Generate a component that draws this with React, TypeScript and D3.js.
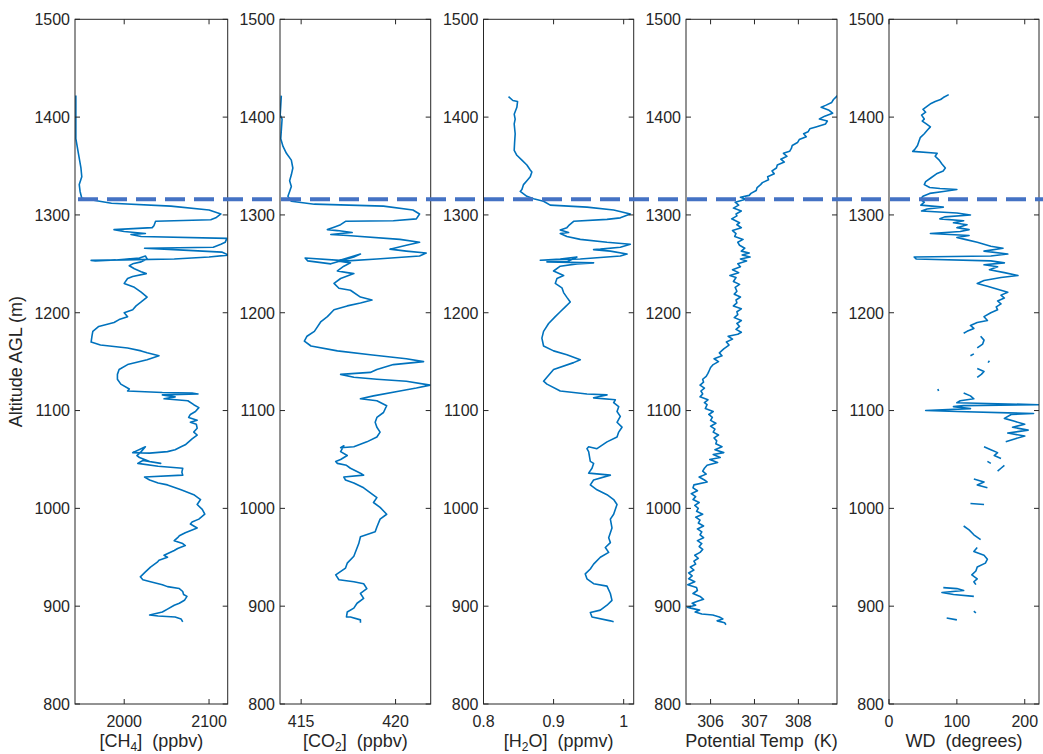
import React from "react";
import * as d3 from "d3";

// ---------- DATA (altitude m, value) ----------
const ALT_DOMAIN = [800, 1500];
const ALT_TICKS = [800, 900, 1000, 1100, 1200, 1300, 1400, 1500];
const BL_TOP = 1316; // boundary-layer top (dashed line)

const CH4: [number, number][] = [
  [1422,1943],[1400,1943],[1378,1943],[1363,1946],[1348,1949],[1339,1950],[1331,1947],[1324,1948],[1317,1950],[1312,1985],[1309,2055],[1305,2100],[1301,2114],[1297,2108],[1295,2102],[1293.5,2037],[1289,2035],[1287,2033],[1285,1988],[1283,2000],[1281,2025],[1280,2008],[1278,2020],[1276,2121],[1272,2119],[1270,2114],[1267,2105],[1266,2024],[1264,2070],[1262,2115],[1259,2123],[1257,2100],[1255,2059],[1254,2000],[1253.5,1961],[1253,1966],[1254,1990],[1256,2018],[1258,2025],[1255,2027],[1252,2020],[1250,2010],[1248,2006],[1245,2012],[1242,2020],[1240,2026],[1237,2010],[1235,2004],[1230,2000],[1226,2012],[1221,2020],[1216,2027],[1211,2020],[1207,2014],[1203,2010],[1200,2000],[1196,2004],[1193,1994],[1190,1988],[1186,1970],[1181,1963],[1176,1962],[1170,1961],[1167,1972],[1164,2004],[1161,2020],[1159,2027],[1156,2041],[1152,2027],[1147,2004],[1142,1994],[1137,1992],[1132,1992],[1127,1996],[1122,2006],[1120,2004],[1118.5,2045],[1118,2080],[1117,2087],[1116,2045],[1114,2060],[1112,2047],[1110,2075],[1106,2082],[1103,2088],[1099,2084],[1096,2078],[1093,2076],[1090,2086],[1088,2078],[1086,2085],[1082,2086],[1078,2082],[1075,2086],[1071,2080],[1068,2076],[1065,2072],[1063,2067],[1060,2060],[1058,2051],[1056.5,2030],[1057,2010],[1063,2025],[1058,2020],[1054,2015],[1052,2018],[1048,2030],[1046,2043],[1049,2022],[1046,2016],[1043,2040],[1041,2069],[1037,2068],[1034,2069],[1032,2024],[1029,2030],[1026,2040],[1024,2051],[1019,2067],[1014,2082],[1009,2090],[1004,2086],[999,2092],[994,2095],[989,2088],[986,2080],[984,2078],[980,2086],[975,2072],[972,2065],[970,2063],[967,2059],[964,2069],[962,2072],[959,2063],[957,2059],[952,2047],[950,2051],[947,2041],[945,2039],[940,2031],[935,2025],[930,2019],[927,2022],[925,2031],[922,2045],[920,2051],[918,2065],[915,2069],[912,2070],[910,2074],[906,2071],[903,2065],[901,2059],[897,2051],[894,2045],[892,2035],[891,2030],[890,2040],[889,2060],[887,2067],[884,2069]
];

const CO2: [number, number][] = [
  [1422,413.95],[1402,413.89],[1398,413.99],[1378,413.92],[1370,414.04],[1363,414.22],[1356,414.48],[1348,414.56],[1341,414.48],[1335,414.39],[1329,414.48],[1324,414.39],[1319,414.30],[1314,414.48],[1311,415.70],[1309,419.36],[1305,420.92],[1301,421.27],[1296,421.10],[1294,419.88],[1293.5,417.35],[1290,417.09],[1287.5,416.74],[1285,416.39],[1284,416.92],[1282,417.70],[1281,417.09],[1280,416.57],[1279,417.44],[1275,420.23],[1272,421.27],[1269,420.57],[1265,419.70],[1263,420.57],[1261,421.62],[1258,421.27],[1255,419.01],[1253,417.44],[1256,415.21],[1253,415.35],[1250,416.57],[1257,417.79],[1260,418.14],[1253,416.92],[1251,417.61],[1247.6,417.26],[1242.7,416.92],[1241,417.44],[1240,417.79],[1235,417.09],[1230,416.74],[1225,417.00],[1223,417.61],[1216,418.14],[1213,418.75],[1210,418.14],[1207,417.44],[1203,416.74],[1196,416.39],[1191,416.05],[1181,415.70],[1176,415.31],[1171,415.17],[1166,415.52],[1161,416.92],[1157,418.66],[1153,420.57],[1150,421.48],[1147,419.88],[1142,419.01],[1139,418.66],[1137,417.09],[1134,417.79],[1132,419.01],[1130,420.57],[1126,421.83],[1123,421.10],[1120,420.23],[1115,418.83],[1112,418.14],[1110,419.01],[1105,419.53],[1098,419.36],[1093,419.01],[1088,418.92],[1083,419.01],[1078,419.18],[1073,419.01],[1068,418.48],[1063,417.79],[1062,417.09],[1064,417.26],[1058,417.09],[1054,417.44],[1050,417.09],[1048,416.83],[1046,416.92],[1044,417.40],[1041,417.61],[1036,418.14],[1034,418.31],[1032,417.26],[1029,417.35],[1026,417.79],[1021,418.31],[1011,419.01],[1006,418.83],[1001,419.18],[994,419.53],[989,419.18],[981,419.01],[976,418.92],[971,418.14],[964,418.05],[951,417.79],[944,417.44],[939,417.35],[932,416.83],[927,417.00],[925,417.79],[923,418.31],[918,418.48],[913,418.14],[908,418.31],[903,417.96],[898,417.79],[894,417.44],[889,417.40],[889,417.61],[886,418.14],[883,418.14]
];

const H2O: [number, number][] = [
  [1421,0.8357],[1417,0.8419],[1416,0.8486],[1410,0.8476],[1403,0.8438],[1398,0.8452],[1393,0.8438],[1383,0.8452],[1373,0.8443],[1366,0.8438],[1361,0.8476],[1356,0.8548],[1351,0.8619],[1346,0.8667],[1344,0.8690],[1339,0.8667],[1335,0.8619],[1331,0.8571],[1326,0.8548],[1324,0.8524],[1319,0.8619],[1316.5,0.8714],[1314,0.8857],[1310,0.8952],[1308,0.9476],[1305,0.9857],[1301,1.0095],[1297,0.9952],[1295.5,0.9762],[1293.5,0.9286],[1289,0.9214],[1287,0.9190],[1284.5,0.9095],[1282,0.9214],[1281,0.9095],[1278,0.9190],[1275,0.9381],[1272,0.9762],[1270,1.0095],[1267,0.9952],[1265,0.9667],[1264.5,0.9571],[1263,0.9810],[1260,1.0048],[1258,0.9952],[1256,0.9571],[1255,0.9381],[1253.6,0.8810],[1255,0.9095],[1257,0.9333],[1252,0.9190],[1252,0.8905],[1251,0.9571],[1250,0.9333],[1247.6,0.9095],[1242.7,0.9],[1238,0.9143],[1235,0.9048],[1230,0.9024],[1225.5,0.9119],[1220.6,0.9143],[1215.7,0.9190],[1211,0.9238],[1206,0.9167],[1201,0.9095],[1196,0.9024],[1189,0.8929],[1181,0.8857],[1174,0.8833],[1166,0.8857],[1161,0.9],[1157,0.9190],[1152,0.9381],[1149,0.9286],[1142,0.9],[1134,0.8905],[1130,0.8857],[1127,0.8905],[1120,0.9095],[1117,0.9476],[1116,0.9762],[1113,0.9571],[1111,0.9881],[1108,0.9857],[1104,0.9929],[1099,0.9905],[1094,0.9952],[1088,0.9905],[1083,0.9976],[1078,0.9929],[1073,0.9905],[1068,0.9762],[1061,0.9619],[1063,0.95],[1061,0.9476],[1058,0.9500],[1048,0.9524],[1046,0.9571],[1041,0.9548],[1036,0.95],[1034,0.9810],[1029,0.9571],[1024,0.9524],[1019,0.9619],[1014,0.9762],[1009,0.9857],[1004,0.9905],[994,0.9857],[989,0.9810],[980,0.9833],[970,0.9786],[965,0.9810],[960,0.9738],[955,0.9786],[950,0.9667],[943,0.9571],[938,0.9524],[933,0.9452],[928,0.9476],[923,0.9571],[920.5,0.9762],[913,0.9810],[906,0.9833],[901,0.9762],[896,0.9667],[893.5,0.9524],[889,0.9548],[885,0.9810],[884,0.9857]
];

const PTEMP: [number, number][] = [
  [1422,308.89],[1418,308.80],[1415,308.76],[1412,308.62],[1410,308.52],[1407,308.70],[1404,308.78],[1401,308.60],[1398,308.48],[1396,308.66],[1393,308.62],[1390,308.40],[1388,308.26],[1385,308.22],[1383,308.12],[1380,308.18],[1377,308.02],[1374,307.98],[1371,307.86],[1368,307.84],[1365,307.80],[1363,307.66],[1360,307.74],[1357,307.60],[1354,307.68],[1351,307.52],[1348,307.50],[1345,307.40],[1342,307.45],[1339,307.30],[1336,307.32],[1333,307.18],[1331,307.14],[1328,307.06],[1325,307.04],[1322,306.92],[1320,306.88],[1318,306.68],[1316,306.80],[1313,306.56],[1310,306.64],[1307,306.52],[1304,306.70],[1301,306.58],[1299,306.60],[1296,306.48],[1292,306.66],[1290,306.60],[1287,306.70],[1284,306.50],[1281,306.58],[1278,306.55],[1275,306.74],[1272,306.62],[1269,306.66],[1266,306.78],[1263,306.70],[1261,306.88],[1259,306.72],[1257,306.90],[1255,306.68],[1253,306.82],[1250,306.62],[1247,306.68],[1244,306.50],[1241,306.64],[1238,306.44],[1236,306.58],[1232,306.52],[1229,306.66],[1226,306.56],[1222,306.60],[1219,306.54],[1216,306.68],[1213,306.58],[1210,306.60],[1207,306.52],[1204,306.70],[1201,306.60],[1198,306.62],[1195,306.54],[1192,306.70],[1189,306.60],[1186,306.66],[1183,306.58],[1180,306.70],[1178,306.62],[1176,306.40],[1173,306.50],[1170,306.36],[1167,306.42],[1163,306.30],[1159,306.20],[1156,306.26],[1153,306.08],[1150,306.18],[1147,306.06],[1144,306.00],[1141,305.97],[1138,305.94],[1135,305.90],[1132,305.82],[1129,305.84],[1126,305.76],[1123,305.86],[1120,305.78],[1117,305.82],[1114,305.76],[1111,305.94],[1108,305.86],[1106,305.92],[1102,305.88],[1099,306.06],[1096,305.96],[1093,306.04],[1090,306.00],[1087,306.12],[1084,306.00],[1081,306.10],[1078,306.06],[1075,306.18],[1072,306.08],[1069,306.14],[1066,306.12],[1063,306.26],[1060,306.10],[1057,306.30],[1055,306.06],[1052,306.22],[1050,305.98],[1047,306.16],[1044,305.92],[1041,305.86],[1038,305.82],[1035,305.90],[1032,305.74],[1029,305.86],[1027,305.92],[1024,305.62],[1021,305.60],[1018,305.70],[1015,305.56],[1012,305.66],[1009,305.60],[1006,305.74],[1003,305.64],[1000,305.72],[997,305.68],[994,305.82],[991,305.66],[988,305.76],[985,305.72],[982,305.84],[979,305.70],[976,305.80],[973,305.76],[970,305.84],[967,305.70],[964,305.80],[961,305.74],[958,305.82],[955,305.76],[952,305.64],[949,305.72],[946,305.62],[943,305.66],[940,305.54],[937,305.62],[934,305.50],[931,305.58],[928,305.50],[925,305.64],[922,305.48],[919,305.68],[916,305.70],[913,305.60],[910,305.76],[907,305.84],[905,305.70],[903,305.58],[901,305.66],[899,305.47],[898,305.55],[896,305.75],[894,305.65],[892,305.80],[891,306.05],[889,306.20],[887,306.28],[885,306.15],[883,306.32],[881,306.35]
];

// wind direction has data gaps: separate segments
const WD_SEGMENTS: [number, number][][] = [
  [[1423,88],[1420,80],[1418,76],[1416,68],[1414,62],[1411,56],[1408,50],[1405,54],[1402,48],[1398,52],[1396,49],[1393,55],[1390,61],[1387,57],[1383,52],[1379,46],[1375,44],[1371,42],[1367,38],[1365,35],[1363,71],[1360,68],[1356,74],[1352,78],[1348,83],[1345,80],[1342,70],[1338,62],[1334,54],[1331,52],[1328,60],[1327,75],[1326,100],[1324,80],[1322,60],[1319,50],[1316,46],[1313,52],[1310,47],[1308,80],[1306,56],[1304,48],[1302,100],[1300,120],[1298,82],[1296,75],[1294,110],[1292,95],[1290,115],[1287,100],[1285,118],[1283,105],[1281,61],[1279,118],[1277,100],[1275,112],[1272,130],[1268,150],[1266,168],[1263,140],[1260,175],[1258,150],[1257,37],[1255,40],[1253,150],[1251,170],[1249,140],[1247,160],[1244,148],[1241,170],[1238,190],[1236,165],[1233,140],[1230,130],[1227,145],[1224,160],[1221,175],[1218,165],[1215,170],[1212,160],[1209,165],[1206,158],[1203,160],[1200,150],[1196,140],[1192,145],[1190,130],[1187,120],[1184,125],[1181,115],[1179,110]],
  [[1176,135],[1172,140],[1168,138],[1164,130]],
  [[1158,125],[1156,120]],
  [[1151,148],[1149,146]],
  [[1143,130],[1140,140],[1137,136],[1134,130]],
  [[1122,72],[1120,73]],
  [[1118,110],[1115,120],[1112,125],[1110,105],[1108,100],[1106,221],[1105,110],[1104,95],[1102,120],[1100,54],[1099,100],[1097,213],[1096,180],[1092,170],[1089,185],[1086,200],[1083,182],[1080,205],[1077,175],[1074,200],[1071,185],[1068,172]],
  [[1063,140],[1060,150],[1057,160],[1054,155],[1051,165]],
  [[1048,145],[1046,150]],
  [[1044,170],[1041,165],[1038,160]],
  [[1030,125],[1027,140],[1024,130],[1021,145]],
  [[1005,120],[1004,140]],
  [[982,110],[978,118],[973,125],[968,135]],
  [[960,130],[956,125],[952,140],[948,145],[944,142],[940,130],[936,128],[932,122],[928,130],[925,125],[922,128]],
  [[919,80],[918,100],[916,110],[914,78],[912,95],[910,125]],
  [[895,125],[893,128]],
  [[888,85],[886,100]],
];

const CH4_DOMAIN = [1942, 2122];
const CO2_DOMAIN = [413.88, 421.86];
const H2O_DOMAIN = [0.8, 1.0143];
const PT_DOMAIN = [305.44, 308.88];
const WD_DOMAIN = [0, 221];

const CH4_TICKS = [2000, 2100];
const CO2_TICKS = [415, 420];
const H2O_TICKS = [0.8, 0.9, 1];
const PT_TICKS = [306, 307, 308];
const WD_TICKS = [0, 100, 200];

// ---------- LAYOUT ----------
const W = 1043;
const H = 754;
const TOP = 19.3;
const BOTTOM = 704;
const PANELS = [
  { left: 75, right: 227.7 },
  { left: 280, right: 430.7 },
  { left: 483.5, right: 633.7 },
  { left: 686, right: 837 },
  { left: 889, right: 1039 },
];
const AXIS_COLOR = "#262626";
const LINE_COLOR = "#0072BD";
const DASH_COLOR = "#4472C4";
const FONT = "'Liberation Sans', Arial, Helvetica, sans-serif";
const TICK_LEN = 5;

const yScale = d3.scaleLinear().domain(ALT_DOMAIN).range([BOTTOM, TOP]);

function Label({ idx }: { idx: number }) {
  const sub = { fontSize: 12 } as any;
  if (idx === 0)
    return (
      <>
        <tspan>[CH</tspan>
        <tspan dy={4} style={sub}>4</tspan>
        <tspan dy={-4}>]  (ppbv)</tspan>
      </>
    );
  if (idx === 1)
    return (
      <>
        <tspan>[CO</tspan>
        <tspan dy={4} style={sub}>2</tspan>
        <tspan dy={-4}>]  (ppbv)</tspan>
      </>
    );
  if (idx === 2)
    return (
      <>
        <tspan>[H</tspan>
        <tspan dy={4} style={sub}>2</tspan>
        <tspan dy={-4}>O]  (ppmv)</tspan>
      </>
    );
  if (idx === 3) return <tspan>Potential Temp  (K)</tspan>;
  return <tspan>WD  (degrees)</tspan>;
}

export default function App() {
  const configs = [
    { segs: [CH4], domain: CH4_DOMAIN, ticks: CH4_TICKS },
    { segs: [CO2], domain: CO2_DOMAIN, ticks: CO2_TICKS },
    { segs: [H2O], domain: H2O_DOMAIN, ticks: H2O_TICKS },
    { segs: [PTEMP], domain: PT_DOMAIN, ticks: PT_TICKS },
    { segs: WD_SEGMENTS, domain: WD_DOMAIN, ticks: WD_TICKS },
  ];
  const yDash = yScale(BL_TOP);

  return (
    <svg
      width={W}
      height={H}
      style={{ position: "absolute", left: 0, top: 0, background: "#fff" }}
      fontFamily={FONT}
    >
      <rect x={0} y={0} width={W} height={H} fill="#fff" />
      {configs.map((c, i) => {
        const p = PANELS[i];
        const x = d3.scaleLinear().domain(c.domain).range([p.left, p.right]);
        const line = d3
          .line<[number, number]>()
          .x((d) => x(d[1]))
          .y((d) => yScale(d[0]));
        const clipId = `clip${i}`;
        return (
          <g key={i}>
            <defs>
              <clipPath id={clipId}>
                <rect x={p.left} y={TOP} width={p.right - p.left} height={BOTTOM - TOP} />
              </clipPath>
            </defs>
            <g clipPath={`url(#${clipId})`}>
              {c.segs.map((s, k) => (
                <path
                  key={k}
                  d={line(s) || ""}
                  fill="none"
                  stroke={LINE_COLOR}
                  strokeWidth={1.6}
                  strokeLinejoin="round"
                />
              ))}
            </g>
            <rect
              x={p.left}
              y={TOP}
              width={p.right - p.left}
              height={BOTTOM - TOP}
              fill="none"
              stroke={AXIS_COLOR}
              strokeWidth={1}
            />
            {ALT_TICKS.map((t) => (
              <g key={t}>
                <line x1={p.left} x2={p.left + TICK_LEN} y1={yScale(t)} y2={yScale(t)} stroke={AXIS_COLOR} />
                <line x1={p.right} x2={p.right - TICK_LEN} y1={yScale(t)} y2={yScale(t)} stroke={AXIS_COLOR} />
                <text
                  x={p.left - 5}
                  y={yScale(t)}
                  dy="0.36em"
                  textAnchor="end"
                  fontSize={16}
                  fill={AXIS_COLOR}
                >
                  {t}
                </text>
              </g>
            ))}
            {c.ticks.map((t) => (
              <g key={t}>
                <line x1={x(t)} x2={x(t)} y1={BOTTOM} y2={BOTTOM - TICK_LEN} stroke={AXIS_COLOR} />
                <line x1={x(t)} x2={x(t)} y1={TOP} y2={TOP + TICK_LEN} stroke={AXIS_COLOR} />
                <text x={x(t)} y={727} textAnchor="middle" fontSize={16} fill={AXIS_COLOR}>
                  {t}
                </text>
              </g>
            ))}
            <text
              x={(p.left + p.right) / 2}
              y={747}
              textAnchor="middle"
              fontSize={18}
              fill={AXIS_COLOR}
              style={{ whiteSpace: "pre" }}
            >
              <Label idx={i} />
            </text>
          </g>
        );
      })}
      <text
        transform={`translate(22, ${(TOP + BOTTOM) / 2}) rotate(-90)`}
        textAnchor="middle"
        fontSize={18}
        fill={AXIS_COLOR}
      >
        Altitude AGL (m)
      </text>
      <line
        x1={78}
        x2={W}
        y1={yDash}
        y2={yDash}
        stroke={DASH_COLOR}
        strokeWidth={4}
        strokeDasharray="20 9"
      />
    </svg>
  );
}
